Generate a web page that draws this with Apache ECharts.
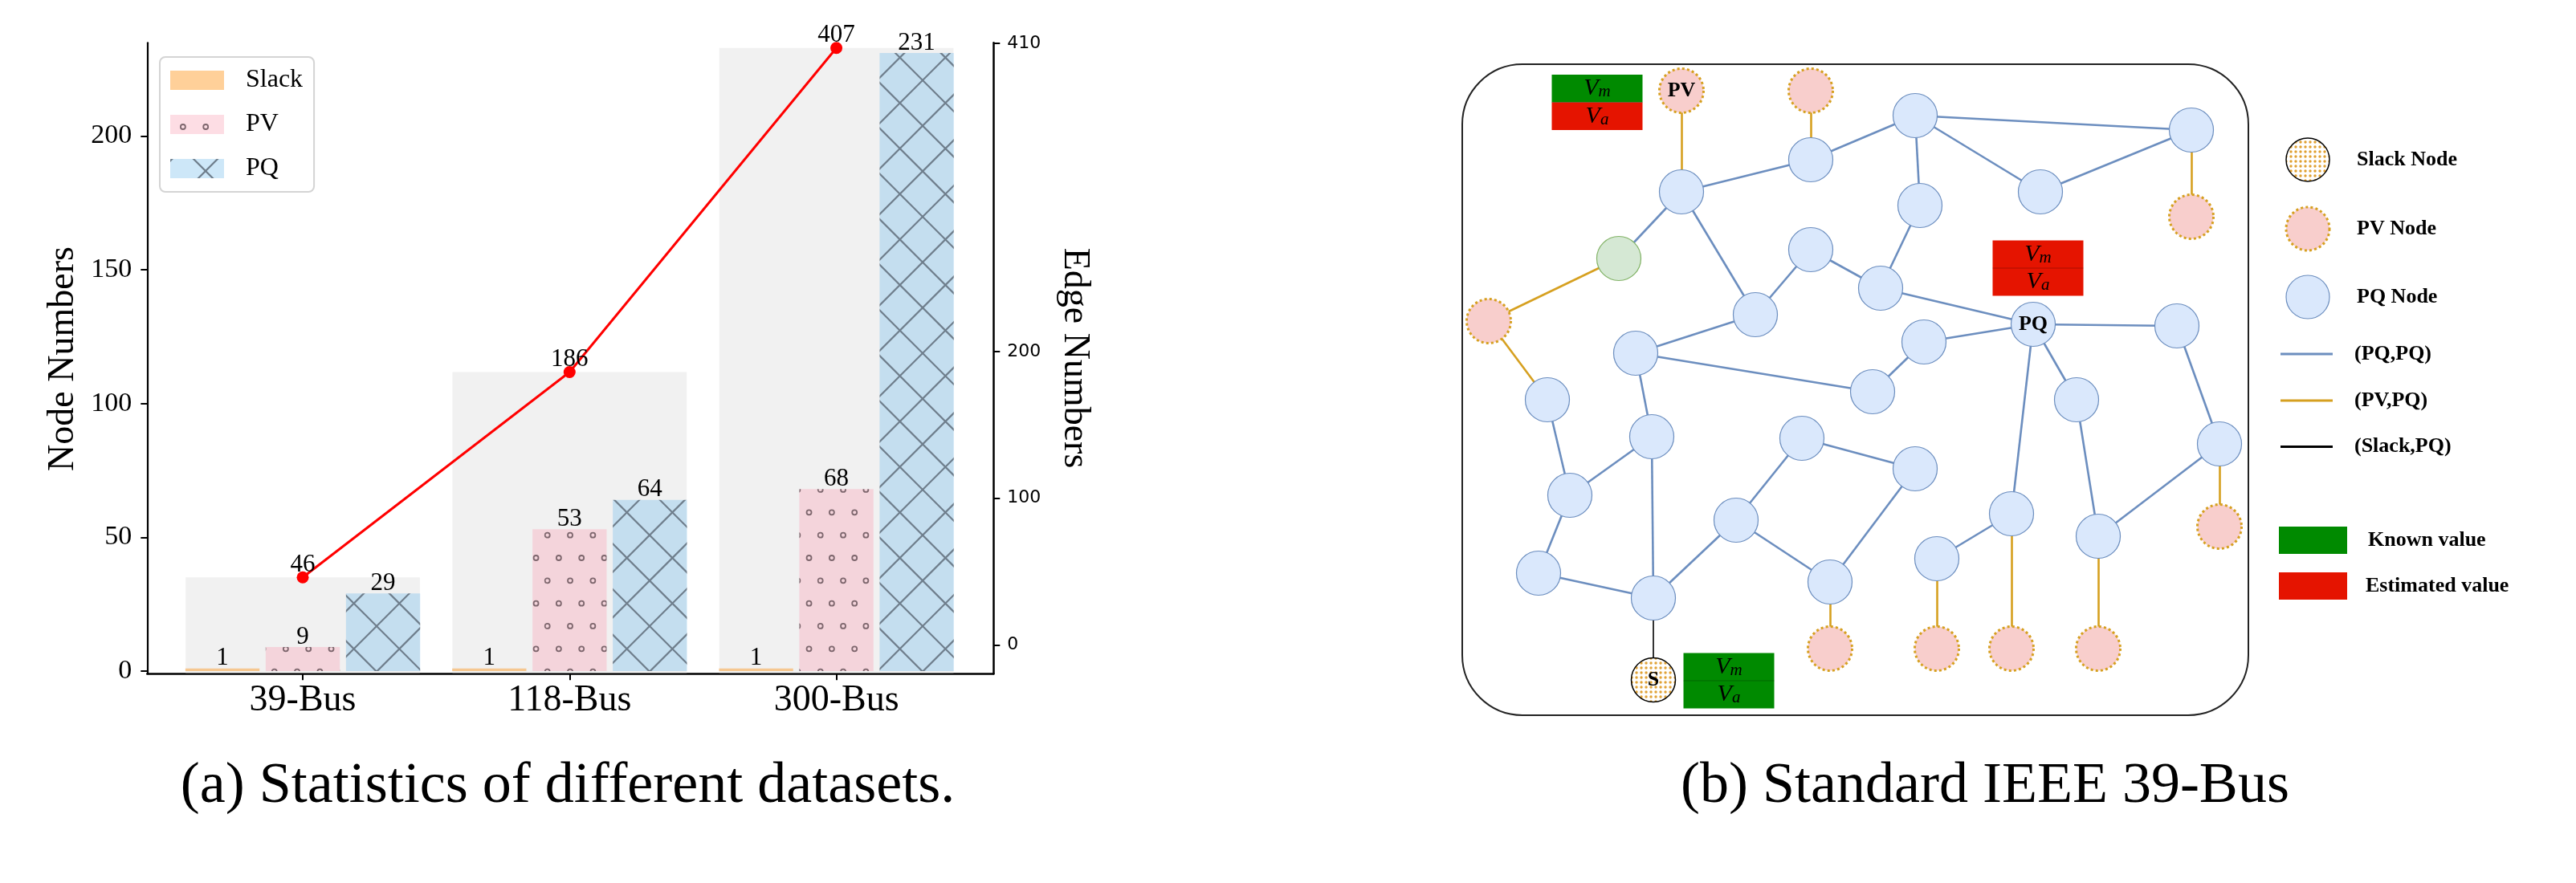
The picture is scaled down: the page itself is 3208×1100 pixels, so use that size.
<!DOCTYPE html>
<html><head><meta charset="utf-8">
<script src="https://cdn.jsdelivr.net/npm/echarts@6/dist/echarts.min.js"></script>
<style>html,body{margin:0;padding:0;background:#fff}#c{width:3208px;height:1100px}</style>
</head><body><div id="c"></div><script>
// ---------------- data: (a) dataset statistics ----------------
const categories = ['39-Bus', '118-Bus', '300-Bus'];
const slackNodes = [1, 1, 1];
const pvNodes = [9, 53, 68];
const pqNodes = [29, 64, 231];
const edgeNumbers = [46, 186, 407];
const leftTicks = [0, 50, 100, 150, 200];
const rightTicks = [0, 100, 200, 410];

// ---------------- data: (b) IEEE 39-bus topology ----------------
// [id, x, y, bus type, label]
const busNodes = [
  ['n1', 2094, 239, 'PQ'], ['n2', 2255, 199, 'PQ'], ['n3', 2385, 144, 'PQ'],
  ['n4', 2729, 162, 'PQ'], ['n5', 2541, 239, 'PQ'], ['n6', 2391, 256, 'PQ'],
  ['n7', 2255, 311, 'PQ'], ['n8', 2342, 359, 'PQ'], ['n9', 2186, 392, 'PQ'],
  ['n10', 2037, 440, 'PQ'], ['n11', 2396, 426, 'PQ'], ['n12', 2532, 404, 'PQ', 'PQ'],
  ['n13', 2711, 406, 'PQ'], ['n14', 2332, 488, 'PQ'], ['n15', 1927, 498, 'PQ'],
  ['n16', 2586, 498, 'PQ'], ['n17', 2057, 544, 'PQ'], ['n18', 2244, 546, 'PQ'],
  ['n19', 2385, 584, 'PQ'], ['n20', 2764, 553, 'PQ'], ['n21', 1955, 617, 'PQ'],
  ['n22', 2162, 648, 'PQ'], ['n23', 2505, 640, 'PQ'], ['n24', 2613, 668, 'PQ'],
  ['n25', 1916, 714, 'PQ'], ['n26', 2059, 745, 'PQ'], ['n27', 2279, 725, 'PQ'],
  ['n28', 2412, 696, 'PQ'], ['g1', 2016, 322, 'Known'],
  ['p1', 2094, 113, 'PV', 'PV'], ['p2', 2255, 113, 'PV'], ['p3', 2729, 270, 'PV'],
  ['p4', 1854, 400, 'PV'], ['p5', 2764, 656, 'PV'], ['p6', 2279, 808, 'PV'],
  ['p7', 2412, 808, 'PV'], ['p8', 2505, 808, 'PV'], ['p9', 2613, 808, 'PV'],
  ['s1', 2059, 847, 'Slack', 'S']
];
// [source, target, edge type]
const busLinks = [
  ['n1','n2','PQ'], ['n2','n3','PQ'], ['n3','n4','PQ'], ['n3','n5','PQ'], ['n5','n4','PQ'],
  ['n3','n6','PQ'], ['n6','n8','PQ'], ['n7','n8','PQ'], ['n7','n9','PQ'], ['n9','n1','PQ'],
  ['n1','g1','PQ'], ['n9','n10','PQ'], ['n10','n14','PQ'], ['n14','n11','PQ'], ['n11','n12','PQ'],
  ['n8','n12','PQ'], ['n12','n13','PQ'], ['n12','n16','PQ'], ['n12','n23','PQ'], ['n13','n20','PQ'],
  ['n20','n24','PQ'], ['n16','n24','PQ'], ['n10','n17','PQ'], ['n15','n21','PQ'], ['n17','n21','PQ'],
  ['n17','n26','PQ'], ['n21','n25','PQ'], ['n25','n26','PQ'], ['n26','n22','PQ'], ['n22','n18','PQ'],
  ['n18','n19','PQ'], ['n22','n27','PQ'], ['n19','n27','PQ'], ['n23','n28','PQ'],
  ['p1','n1','PV'], ['p2','n2','PV'], ['n4','p3','PV'], ['g1','p4','PV'], ['p4','n15','PV'],
  ['n20','p5','PV'], ['n27','p6','PV'], ['n28','p7','PV'], ['n23','p8','PV'], ['n24','p9','PV'],
  ['n26','s1','Slack']
];
// [centre x, centre y, V_m state, V_a state]
const annotations = [
  [1989, 127.5, 'known', 'estimated'],
  [2538, 334, 'estimated', 'estimated'],
  [2153, 848, 'known', 'known']
];

// ---------------- styles ----------------
const SERIF = '"Liberation Serif", "Times New Roman", serif';
const P = 170 / 3;
const NODE_SIZE = 55;
function makeCanvas(fill, draw, size) {
  const c = document.createElement('canvas');
  c.width = size || 170; c.height = size || 170;
  const g = c.getContext('2d');
  g.fillStyle = fill; g.fillRect(0, 0, c.width, c.height);
  if (draw) draw(g);
  return c;
}
function tile(fill, draw, size) { return { image: makeCanvas(fill, draw, size), repeat: 'repeat' }; }
const slackFill = 'rgba(255,137,0,0.4)';
const pvPattern = tile('rgba(250,170,187,0.4)', g => {
  g.strokeStyle = '#7d666d'; g.lineWidth = 1.8;
  for (let i = -1; i <= 7; i++) for (let j = -1; j <= 4; j++) {
    [[1.7, 43.3], [15.87, 15]].forEach(([ox, oy]) => {
      g.beginPath(); g.arc(ox + i * P / 2, oy + j * P, 3, 0, Math.PI * 2); g.stroke();
    });
  }
});
const pqPattern = tile('rgba(130,195,237,0.4)', g => {
  g.strokeStyle = '#6f7e8c'; g.lineWidth = 2.2;
  for (let k = -6; k <= 6; k++) {
    const a = 29 + k * P, b = 59 + k * P;
    g.beginPath(); g.moveTo(a - 200, -200); g.lineTo(a + 400, 400); g.stroke();
    g.beginPath(); g.moveTo(b + 200, -200); g.lineTo(b - 400, 400); g.stroke();
  }
});
const dotCanvas = makeCanvas('#ffffff', g => {
  g.fillStyle = '#e0a030'; g.beginPath(); g.arc(3, 3, 1.7, 0, Math.PI * 2); g.fill();
}, 6);
const slackDots = { image: dotCanvas, repeat: 'repeat' };
// graph symbols are drawn in unit space and scaled by size/2, so scale the pattern back
const slackDotsNode = { image: dotCanvas, repeat: 'repeat', scaleX: 2 / NODE_SIZE, scaleY: 2 / NODE_SIZE };

const BAR_W = 0.278, OFFSET = 0.301, GRAY_W = 0.878;

function nodeBar(name, values, off, fill) {
  return {
    type: 'custom', name, xAxisIndex: 0, yAxisIndex: 0, z: 3,
    itemStyle: { color: fill },
    data: values.map((v, i) => [i, v]),
    renderItem: (params, api) => {
      const i = api.value(0), v = api.value(1);
      const w = api.size([BAR_W, 0])[0];
      const top = api.coord([i + off, v]);
      const base = api.coord([i + off, 0]);
      return { type: 'group', children: [
        { type: 'rect', shape: { x: top[0] - w / 2, y: top[1], width: w, height: base[1] - top[1] }, style: { fill } },
        { type: 'text', z2: 10, style: { text: String(v), x: top[0], y: top[1] + 3, align: 'center', verticalAlign: 'bottom',
          fontSize: 31, fontFamily: SERIF, fill: '#000' } }
      ]};
    }
  };
}

const nodeStyle = {
  PQ: { color: '#dae8fc', borderColor: '#6c8ebf', borderWidth: 1.2 },
  PV: { color: '#f8cecc', borderColor: '#d6a020', borderWidth: 3, borderType: [3, 3.2] },
  Known: { color: '#d5e8d4', borderColor: '#82b366', borderWidth: 1.2 },
  Slack: { color: slackDotsNode, borderColor: '#000', borderWidth: 1.5 }
};
const linkStyle = {
  PQ: { color: '#6c8ebf', width: 2.6 },
  PV: { color: '#d6a020', width: 2.6 },
  Slack: { color: '#000', width: 1.6 }
};
const stateColor = { known: '#008a00', estimated: '#e51400' };
const vRich = {
  v: { fontSize: 30, fontStyle: 'italic', fontFamily: SERIF, color: '#fff', lineHeight: 30 },
  s: { fontSize: 21, fontStyle: 'italic', fontFamily: SERIF, color: '#fff', lineHeight: 14, verticalAlign: 'bottom' }
};

const legendFont = { fontFamily: SERIF, fontWeight: 'bold', fontSize: 26, fill: '#000' };
const netLegend = [
  { type: 'circle', shape: { cx: 2874, cy: 199, r: 27 }, style: { fill: slackDots, stroke: '#000', lineWidth: 1.5 } },
  { type: 'circle', shape: { cx: 2874, cy: 285, r: 27 }, style: { fill: '#f8cecc', stroke: '#d6a020', lineWidth: 3, lineDash: [3, 3.2] } },
  { type: 'circle', shape: { cx: 2874, cy: 370, r: 27 }, style: { fill: '#dae8fc', stroke: '#6c8ebf', lineWidth: 1.2 } },
  { type: 'line', shape: { x1: 2840, y1: 441, x2: 2905, y2: 441 }, style: { stroke: '#6c8ebf', lineWidth: 3 } },
  { type: 'line', shape: { x1: 2840, y1: 499, x2: 2905, y2: 499 }, style: { stroke: '#d6a020', lineWidth: 3 } },
  { type: 'line', shape: { x1: 2840, y1: 556.5, x2: 2905, y2: 556.5 }, style: { stroke: '#000', lineWidth: 3 } },
  { type: 'rect', shape: { x: 2838, y: 656, width: 85, height: 34 }, style: { fill: '#008a00' } },
  { type: 'rect', shape: { x: 2838, y: 713, width: 85, height: 34 }, style: { fill: '#e51400' } },
  ...[['Slack Node', 2935, 199], ['PV Node', 2935, 285], ['PQ Node', 2935, 370],
      ['(PQ,PQ)', 2932, 441], ['(PV,PQ)', 2932, 499], ['(Slack,PQ)', 2932, 556.5],
      ['Known value', 2949, 673], ['Estimated value', 2946, 730]].map(([t, x, y]) => ({
    type: 'text', x, y, style: Object.assign({ text: t, align: 'left', verticalAlign: 'middle' }, legendFont)
  }))
];

const option = {
  animation: false,
  backgroundColor: '#fff',
  grid: [
    { left: 183.3, top: 53.3, right: 3208 - 1237.3, bottom: 1100 - 839.3, outerBoundsMode: 'none' },
    { left: 1800, top: 0, width: 1408, height: 1100, outerBoundsMode: 'none' }
  ],
  legend: {
    data: [
      { name: 'Slack', icon: 'rect', itemStyle: { color: slackFill } },
      { name: 'PV', icon: 'rect', itemStyle: { color: pvPattern } },
      { name: 'PQ', icon: 'rect', itemStyle: { color: pqPattern } }
    ],
    orient: 'vertical', left: 199, top: 71, selectedMode: false,
    padding: [13, 14, 13, 13], itemWidth: 67, itemHeight: 24, itemGap: 23,
    borderColor: '#d4d4d4', borderWidth: 2, borderRadius: 7, backgroundColor: '#fff',
    textStyle: { fontFamily: SERIF, fontSize: 32, color: '#000', lineHeight: 24, padding: [0, 0, 0, 22] }
  },
  xAxis: [
    { type: 'value', gridIndex: 0, min: -0.583, max: 2.589,
      axisLine: { show: true, onZero: false, lineStyle: { color: '#000', width: 2.5 } },
      axisTick: { show: true, customValues: [0, 1, 2], length: 8, lineStyle: { color: '#000', width: 2 } },
      axisLabel: { customValues: [0, 1, 2], formatter: v => categories[Math.round(v)], fontFamily: SERIF, fontSize: 46, color: '#000', margin: 11 },
      splitLine: { show: false } },
    { type: 'value', gridIndex: 1, min: 1800, max: 3208, show: false }
  ],
  yAxis: [
    { type: 'value', gridIndex: 0, position: 'left', min: -1, max: 234.8,
      axisLine: { show: true, onZero: false, lineStyle: { color: '#000', width: 2.2 } },
      axisTick: { show: true, customValues: leftTicks, length: 8, lineStyle: { color: '#000', width: 2 } },
      axisLabel: { customValues: leftTicks, fontFamily: SERIF, fontSize: 34, color: '#000', margin: 19 },
      splitLine: { show: false } },
    { type: 'value', gridIndex: 0, position: 'right', min: -19.7, max: 410.5,
      axisLine: { show: true, onZero: false, lineStyle: { color: '#000', width: 2.5 } },
      axisTick: { show: true, customValues: rightTicks, length: 8, lineStyle: { color: '#000', width: 2 } },
      axisLabel: { customValues: rightTicks, fontFamily: '"DejaVu Sans", sans-serif', fontSize: 22, color: '#000', margin: 17 },
      splitLine: { show: false } },
    { type: 'value', gridIndex: 1, min: 0, max: 1100, inverse: true, show: false }
  ],
  graphic: [
    { type: 'text', x: 79, y: 447, rotation: Math.PI / 2,
      style: { text: 'Node Numbers', fontFamily: SERIF, fontSize: 46, fill: '#000', align: 'center', verticalAlign: 'middle' } },
    { type: 'text', x: 1338, y: 446, rotation: -Math.PI / 2,
      style: { text: 'Edge Numbers', fontFamily: SERIF, fontSize: 46, fill: '#000', align: 'center', verticalAlign: 'middle' } },
    { type: 'text', x: 707, y: 980,
      style: { text: '(a) Statistics of different datasets.', fontFamily: SERIF, fontSize: 72, fill: '#000', align: 'center', verticalAlign: 'middle' } },
    { type: 'text', x: 2472, y: 980,
      style: { text: '(b) Standard IEEE 39-Bus', fontFamily: SERIF, fontSize: 72, fill: '#000', align: 'center', verticalAlign: 'middle' } },
    { type: 'rect', z: -1, shape: { x: 1821, y: 80, width: 979, height: 811, r: 75 }, style: { fill: 'none', stroke: '#222', lineWidth: 2 } },
    ...netLegend
  ],
  series: [
    { type: 'custom', name: 'Edges', xAxisIndex: 0, yAxisIndex: 1, z: 1,
      data: edgeNumbers.map((v, i) => [i, v]),
      renderItem: (params, api) => {
        const i = api.value(0), v = api.value(1);
        const w = api.size([GRAY_W, 0])[0];
        const top = api.coord([i, v]);
        const base = api.coord([i, -19.7]);
        return { type: 'rect', shape: { x: top[0] - w / 2, y: top[1], width: w, height: base[1] - top[1] - 1 }, style: { fill: '#f1f1f1' } };
      } },
    nodeBar('Slack', slackNodes, -OFFSET, slackFill),
    nodeBar('PV', pvNodes, 0, pvPattern),
    nodeBar('PQ', pqNodes, OFFSET, pqPattern),
    { type: 'line', name: 'Edge Numbers', xAxisIndex: 0, yAxisIndex: 1, z: 6,
      data: edgeNumbers.map((v, i) => [i, v]),
      symbol: 'circle', symbolSize: 15,
      lineStyle: { color: '#ff0000', width: 3 }, itemStyle: { color: '#ff0000' },
      label: { show: true, position: 'inside', verticalAlign: 'bottom', offset: [0, 0],
        formatter: p => String(p.value[1]), fontFamily: SERIF, fontSize: 31, color: '#000' } },
    { type: 'graph', coordinateSystem: 'cartesian2d', xAxisIndex: 1, yAxisIndex: 2, z: 4,
      symbol: 'circle', symbolSize: NODE_SIZE, silent: true,
      label: { position: 'inside', fontFamily: SERIF, fontWeight: 'bold', fontSize: 26, color: '#000' },
      data: busNodes.map(([id, x, y, type, lbl]) => ({
        name: id, value: [x, y], itemStyle: nodeStyle[type],
        label: lbl ? { show: true, formatter: lbl } : { show: false }
      })),
      links: busLinks.map(([s, t, type]) => ({ source: s, target: t, lineStyle: Object.assign({ opacity: 1, curveness: 0 }, linkStyle[type]) })) },
    { type: 'custom', name: 'Annotations', xAxisIndex: 1, yAxisIndex: 2, z: 7,
      data: annotations.map(a => [a[0], a[1]]),
      renderItem: (params, api) => {
        const a = annotations[params.dataIndex];
        const c = api.coord([api.value(0), api.value(1)]);
        const w = 113, h = 34.5;
        return { type: 'group', children: [
          { type: 'rect', shape: { x: c[0] - w / 2, y: c[1] - h, width: w, height: h }, style: { fill: stateColor[a[2]] } },
          { type: 'rect', shape: { x: c[0] - w / 2, y: c[1], width: w, height: h }, style: { fill: stateColor[a[3]] } },
          { type: 'line', shape: { x1: c[0] - w / 2, y1: c[1], x2: c[0] + w / 2, y2: c[1] }, style: { stroke: 'rgba(0,0,0,0.25)', lineWidth: 1 } },
          { type: 'text', style: { text: '{v|V}{s|m}', rich: vRich, x: c[0], y: c[1] - h / 2, align: 'center', verticalAlign: 'middle' } },
          { type: 'text', style: { text: '{v|V}{s|a}', rich: vRich, x: c[0], y: c[1] + h / 2, align: 'center', verticalAlign: 'middle' } }
        ]};
      } }
  ]
};
const chart = echarts.init(document.getElementById('c'), null, { renderer: 'canvas' });
chart.setOption(option);
</script></body></html>
